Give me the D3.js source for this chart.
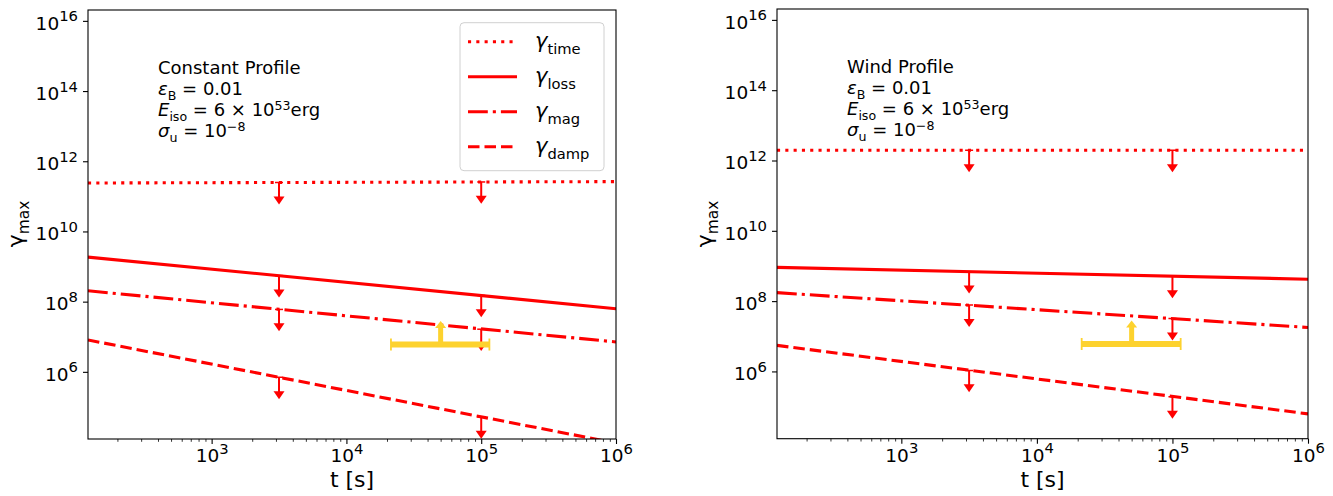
<!DOCTYPE html>
<html>
<head>
<meta charset="utf-8">
<script src="https://cdn.jsdelivr.net/npm/d3@7"></script>
<style>
  body { margin: 0; background: #fff; }
  svg { font-family: "DejaVu Sans", sans-serif; }
</style>
</head>
<body>
<div id="chart"></div>
<script>
// time range of both panels [s]
const tDomain = [121, 1e6];
const gammaDomain = [1.22e4, 2.04e16];

// ---- constant density profile: [t, gamma] end points of each curve
const constTime = [[121, 2.4e11], [1e6, 2.63e11]];
const constLoss = [[121, 1.86e9], [1e6, 6.3e7]];
const constMag  = [[121, 2.04e8], [1e6, 7.1e6]];
const constDamp = [[121, 8.1e6], [1e6, 9.3e3]];

// ---- wind profile
const windTime = [[121, 1.95e12], [1e6, 1.95e12]];
const windLoss = [[121, 9.1e8], [1e6, 4.2e8]];
const windMag  = [[121, 1.74e8], [1e6, 1.78e7]];
const windDamp = [[121, 5.5e6], [1e6, 6.2e4]];

// upper limit arrows (t and gamma where the arrow starts)
const limitTimes = [3162, 1e5];
const constLimits = { time: [2.48e11, 2.57e11], loss: [5.5e8, 1.5e8], mag: [6.0e7, 1.64e7], damp: [7.0e5, 5.2e4] };
const windLimits  = { time: [1.95e12, 1.95e12], loss: [6.9e8, 5.1e8], mag: [7.7e7, 3.2e7], damp: [1.07e6, 1.9e5] };
const arrowDrop = 4.2;   // arrow end = start / arrowDrop

// observed lower limit (yellow)
const obsT = [2.14e4, 1.15e5];
const obsTc = 5e4;
const obsGamma = 6.0e6;
const obsTop = 2.8e7;

const yTicks = [1e6, 1e8, 1e10, 1e12, 1e14, 1e16];
const xTicks = [1e3, 1e4, 1e5, 1e6];

const seriesNames = ["time", "loss", "mag", "damp"];
const dashes = { time: "3.1,5.2", loss: null, mag: "19.8,5,3.1,5", damp: "11.5,5" };

const panels = [
  { id: "c", x0: 88, x1: 616, y0: 10, y1: 439, title: "Constant Profile",
    lines: { time: constTime, loss: constLoss, mag: constMag, damp: constDamp },
    limits: constLimits, legend: true },
  { id: "w", x0: 777, x1: 1308, y0: 9, y1: 438.7, title: "Wind Profile",
    lines: { time: windTime, loss: windLoss, mag: windMag, damp: windDamp },
    limits: windLimits, legend: false }
];

const svg = d3.select("#chart").append("svg")
  .attr("width", 1333).attr("height", 496);

const red = "#ff0000";
const gold = "#fdd22e";

// text with sub/superscripts: parts = [text, style] where style is "", "i", "sub", "sup"
function rich(sel, parts, size, supScale, supRaise) {
  supScale = supScale || 0.7;
  supRaise = supRaise || 0.42;
  let shift = 0;
  parts.forEach(p => {
    const txt = p[0], st = p[1] || "";
    let target = 0, fs = size;
    if (st.includes("sub")) { target = size * 0.28; fs = size * 0.7; }
    if (st.includes("sup")) { target = -size * supRaise; fs = size * supScale; }
    sel.append("tspan")
      .attr("dy", target - shift)
      .style("font-size", fs + "px")
      .style("font-style", st.includes("i") ? "italic" : "normal")
      .text(txt);
    shift = target;
  });
}

panels.forEach(p => {
  const x = d3.scaleLog().domain(tDomain).range([p.x0, p.x1]);
  const y = d3.scaleLog().domain(gammaDomain).range([p.y1, p.y0]);
  const g = svg.append("g");

  g.append("clipPath").attr("id", "clip-" + p.id)
    .append("rect").attr("x", p.x0).attr("y", p.y0)
    .attr("width", p.x1 - p.x0).attr("height", p.y1 - p.y0);

  const plot = g.append("g").attr("clip-path", "url(#clip-" + p.id + ")");

  const line = d3.line().x(d => x(d[0])).y(d => y(d[1]));

  seriesNames.forEach(name => {
    plot.append("path")
      .datum(p.lines[name])
      .attr("d", line)
      .attr("fill", "none")
      .attr("stroke", red)
      .attr("stroke-width", 3.1)
      .attr("stroke-dasharray", dashes[name]);
  });

  // upper limit arrows
  seriesNames.forEach(name => {
    p.limits[name].forEach((v, i) => {
      const cx = x(limitTimes[i]);
      const top = y(v), tip = y(v / arrowDrop);
      plot.append("line")
        .attr("x1", cx).attr("x2", cx).attr("y1", top).attr("y2", tip - 6)
        .attr("stroke", red).attr("stroke-width", 2);
      plot.append("line")
        .attr("x1", cx - 4).attr("x2", cx + 4).attr("y1", top).attr("y2", top)
        .attr("stroke", red).attr("stroke-width", 1.5);
      plot.append("path")
        .attr("d", `M${cx - 5.5},${tip - 8}L${cx + 5.5},${tip - 8}L${cx},${tip}Z`)
        .attr("fill", red);
    });
  });

  // observed lower limit
  const oy = y(obsGamma);
  plot.append("line")
    .attr("x1", x(obsT[0])).attr("x2", x(obsT[1])).attr("y1", oy).attr("y2", oy)
    .attr("stroke", gold).attr("stroke-width", 6);
  obsT.forEach(t => {
    plot.append("line")
      .attr("x1", x(t)).attr("x2", x(t)).attr("y1", oy - 6).attr("y2", oy + 6)
      .attr("stroke", gold).attr("stroke-width", 1.8);
  });
  const ox = x(obsTc), otip = y(obsTop);
  plot.append("line")
    .attr("x1", ox).attr("x2", ox).attr("y1", oy).attr("y2", otip + 6)
    .attr("stroke", gold).attr("stroke-width", 5);
  plot.append("path")
    .attr("d", `M${ox - 5.5},${otip + 7}L${ox + 5.5},${otip + 7}L${ox},${otip}Z`)
    .attr("fill", gold);

  // axes
  const yAxis = g.append("g").attr("transform", `translate(${p.x0},0)`)
    .call(d3.axisLeft(y).tickValues(yTicks).tickSize(5).tickSizeOuter(0).tickFormat(""));
  yAxis.select(".domain").remove();
  yAxis.selectAll(".tick line").attr("stroke-width", 1.1);
  yAxis.selectAll(".tick").each(function (d) {
    const t = d3.select(this).append("text")
      .attr("x", -10).attr("y", 8.3).attr("text-anchor", "end")
      .attr("fill", "#000").style("font-family", "DejaVu Sans");
    rich(t, [["10"], [String(Math.round(Math.log10(d))), "sup"]], 18.5, 0.8, 0.45);
  });

  // minor x ticks
  const minor = [];
  for (let e = 2; e < 6; e++) for (let k = 2; k < 10; k++) {
    const v = k * Math.pow(10, e);
    if (v > tDomain[0] && v < tDomain[1]) minor.push(v);
  }
  const xMinor = g.append("g").attr("transform", `translate(0,${p.y1})`)
    .call(d3.axisBottom(x).tickValues(minor).tickSize(2.8).tickSizeOuter(0).tickFormat(""));
  xMinor.select(".domain").remove();
  xMinor.selectAll(".tick line").attr("stroke-width", 0.8);

  const xAxis = g.append("g").attr("transform", `translate(0,${p.y1})`)
    .call(d3.axisBottom(x).tickValues(xTicks).tickSize(5).tickSizeOuter(0).tickFormat(""));
  xAxis.select(".domain").remove();
  xAxis.selectAll(".tick line").attr("stroke-width", 1.1);
  xAxis.selectAll(".tick").each(function (d) {
    const t = d3.select(this).append("text")
      .attr("x", 0).attr("y", 23).attr("text-anchor", "middle")
      .attr("fill", "#000").style("font-family", "DejaVu Sans");
    rich(t, [["10"], [String(Math.round(Math.log10(d))), "sup"]], 18.5, 0.8, 0.45);
  });

  // frame
  g.append("rect")
    .attr("x", p.x0).attr("y", p.y0)
    .attr("width", p.x1 - p.x0).attr("height", p.y1 - p.y0)
    .attr("fill", "none").attr("stroke", "#000").attr("stroke-width", 1.1);

  // axis labels
  g.append("text")
    .attr("x", (p.x0 + p.x1) / 2).attr("y", 486.5)
    .attr("text-anchor", "middle").style("font-size", "22px")
    .text("t [s]");

  const yl = g.append("text")
    .attr("transform", `translate(${p.x0 - 65},224) rotate(-90)`)
    .attr("text-anchor", "middle");
  rich(yl, [["γ"], ["max", "sub"]], 22);

  // annotation
  const ax = p.x0 + 70, ay = p.y0 + 64;
  const ann = g.append("g").attr("fill", "#000");
  ann.append("text").attr("x", ax).attr("y", ay).style("font-size", "18px").text(p.title);
  rich(ann.append("text").attr("x", ax).attr("y", ay + 21),
    [["ε", "i"], ["B", "sub"], [" = 0.01"]], 18);
  rich(ann.append("text").attr("x", ax).attr("y", ay + 42),
    [["E", "i"], ["iso", "sub"], [" = 6 × 10"], ["53", "sup"], ["erg"]], 18, 0.7, 0.34);
  rich(ann.append("text").attr("x", ax).attr("y", ay + 63),
    [["σ", "i"], ["u", "sub"], [" = 10"], ["−8", "sup"]], 18, 0.7, 0.34);

  // legend
  if (p.legend) {
    const lg = g.append("g");
    lg.append("rect")
      .attr("x", 460).attr("y", 22.7).attr("width", 144).attr("height", 148)
      .attr("rx", 4).attr("fill", "#fff").attr("fill-opacity", 0.8)
      .attr("stroke", "#d0d0d0").attr("stroke-width", 1);
    seriesNames.forEach((name, i) => {
      const ry = 41.7 + i * 35;
      lg.append("line")
        .attr("x1", 468).attr("x2", 517).attr("y1", ry).attr("y2", ry)
        .attr("stroke", red).attr("stroke-width", 3.1)
        .attr("stroke-dasharray", dashes[name]);
      const t = lg.append("text").attr("x", 535).attr("y", ry + 6);
      rich(t, [["γ", "i"], [name, "sub"]], 21);
    });
  }
});
</script>
</body>
</html>
